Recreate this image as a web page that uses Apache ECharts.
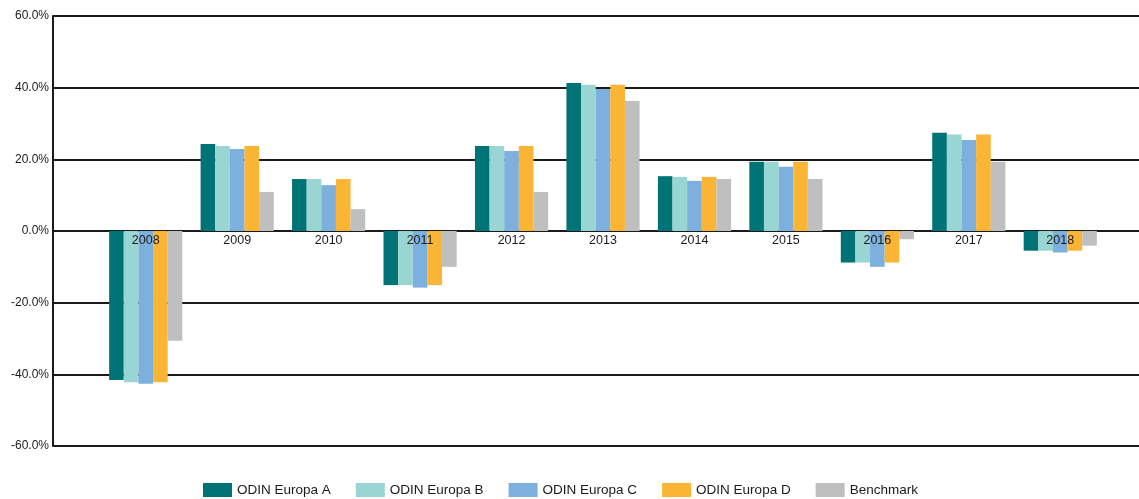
<!DOCTYPE html>
<html>
<head>
<meta charset="utf-8">
<script src="https://cdn.jsdelivr.net/npm/echarts@6/dist/echarts.min.js"></script>
<style>
  html, body { margin: 0; padding: 0; background: #fff; }
  #chart { width: 1139px; height: 499px; }
</style>
</head>
<body>
<div id="chart"></div>
<script>
const years = ['2008','2009','2010','2011','2012','2013','2014','2015','2016','2017','2018']
const europaA = [-41.6, 24.3, 14.5, -15.1, 23.7, 41.3, 15.3, 19.3, -8.8, 27.4, -5.5]
const europaB = [-42.2, 23.7, 14.5, -15.1, 23.7, 40.8, 15.1, 19.3, -8.8, 26.9, -5.5]
const europaC = [-42.6, 22.9, 12.8, -15.8, 22.3, 39.6, 14.0, 17.9, -10.0, 25.4, -6.0]
const europaD = [-42.2, 23.7, 14.5, -15.1, 23.7, 40.8, 15.1, 19.3, -8.8, 26.9, -5.5]
const benchmark = [-30.6, 10.9, 6.1, -10.0, 10.9, 36.3, 14.5, 14.5, -2.3, 19.3, -4.1]

const names = ['ODIN Europa A','ODIN Europa B','ODIN Europa C','ODIN Europa D','Benchmark']
const colors = ['#007377','#99d5d2','#7eb0dd','#fbb534','#bfbfbf']
const values = [europaA, europaB, europaC, europaD, benchmark]

const font = 'Liberation Sans, Arial, sans-serif'
const ink = '#1a1a1a'

// plot area: top 16, bottom 446 -> zero line sits half way
const plotTop = 16, plotBottom = 53, chartH = 499
const zeroOffset = (chartH - plotBottom - plotTop) / 2

var myChart = echarts.init(document.getElementById('chart'))
var option = {
  animation: false,
  textStyle: { fontFamily: font },
  legend: {
    data: names,
    bottom: 2,
    left: 203,
    padding: 0,
    itemWidth: 29,
    itemHeight: 14,
    itemGap: 25,
    icon: 'rect',
    textStyle: { fontSize: 13.5, color: ink, fontFamily: font }
  },
  grid: [
    { left: 53, right: 0, top: plotTop, bottom: plotBottom },
    { left: 100, right: 33, top: plotTop, bottom: plotBottom }
  ],
  xAxis: [
    { type: 'category', gridIndex: 0, data: years, show: false },
    {
      type: 'category', gridIndex: 1, data: years, z: 10,
      offset: -zeroOffset,
      axisLine: { show: false, onZero: false },
      axisTick: { show: false },
      axisLabel: { fontSize: 12.5, color: ink, margin: 3, fontFamily: font }
    }
  ],
  yAxis: [
    {
      type: 'value', gridIndex: 0, min: -60, max: 60, interval: 20,
      axisLine: { show: true, lineStyle: { color: ink, width: 2 } },
      axisTick: { show: false },
      splitLine: { show: true, lineStyle: { color: ink, width: 2 } },
      axisLabel: {
        fontSize: 12, color: ink, margin: 4, fontFamily: font,
        formatter: v => v.toFixed(1) + '%'
      }
    },
    {
      type: 'value', gridIndex: 1, min: -60, max: 60, interval: 20,
      axisLine: { show: false }, axisTick: { show: false },
      axisLabel: { show: false }, splitLine: { show: false }
    }
  ],
  series: names.map((n, i) => ({
    name: n,
    type: 'bar',
    xAxisIndex: 1,
    yAxisIndex: 1,
    data: values[i],
    barGap: '0%',
    barCategoryGap: '20%',
    itemStyle: { color: colors[i] }
  }))
}
option && myChart.setOption(option)
</script>
</body>
</html>
